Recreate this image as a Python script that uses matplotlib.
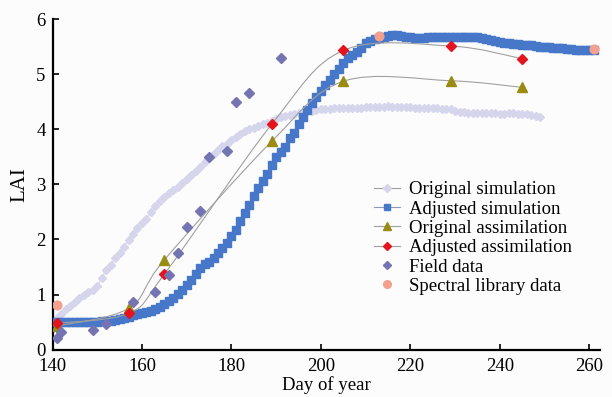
import numpy as np
import matplotlib
matplotlib.use('Agg')
import matplotlib.pyplot as plt
from matplotlib.path import Path
from matplotlib.patches import PathPatch
from matplotlib.lines import Line2D

plt.rcParams['font.family'] = ['Liberation Serif', 'DejaVu Serif']

# original simulation, daily from day 141
orig_sim_start = 141
orig_sim = [0.57, 0.65, 0.73, 0.80, 0.87, 0.93, 0.99, 1.05, 1.08, 1.15,
            1.30, 1.44, 1.54, 1.66, 1.76, 1.87, 1.99, 2.10, 2.21, 2.30,
            2.38, 2.49, 2.60, 2.69, 2.77, 2.84, 2.90, 2.96, 3.02, 3.09,
            3.17, 3.25, 3.31, 3.40, 3.48, 3.56, 3.63, 3.69, 3.74, 3.80,
            3.86, 3.91, 3.96, 4.00, 4.03, 4.06, 4.09, 4.12, 4.15, 4.19,
            4.22, 4.24, 4.26, 4.28, 4.30, 4.32, 4.33, 4.34, 4.35, 4.36,
            4.37, 4.37, 4.38, 4.38, 4.38, 4.38, 4.38, 4.39, 4.39, 4.40,
            4.40, 4.41, 4.41, 4.41, 4.42, 4.41, 4.41, 4.41, 4.40, 4.40,
            4.39, 4.39, 4.38, 4.38, 4.38, 4.38, 4.37, 4.37, 4.36, 4.34,
            4.32, 4.31, 4.30, 4.30, 4.29, 4.29, 4.29, 4.29, 4.29, 4.28,
            4.28, 4.29, 4.29, 4.28, 4.28, 4.27, 4.26, 4.24, 4.23]

# adjusted simulation, daily from day 141
adj_sim_start = 141
adj_sim = [0.50, 0.50, 0.50, 0.50, 0.50, 0.50, 0.50, 0.50, 0.50, 0.51,
           0.52, 0.52, 0.53, 0.54, 0.55, 0.57, 0.60, 0.63, 0.65, 0.67,
           0.68, 0.70, 0.73, 0.77, 0.83, 0.88, 0.93, 1.01, 1.08, 1.17,
           1.26, 1.38, 1.48, 1.55, 1.60, 1.67, 1.76, 1.85, 1.93, 2.06,
           2.18, 2.34, 2.48, 2.63, 2.78, 2.93, 3.06, 3.19, 3.35, 3.50,
           3.59, 3.68, 3.84, 3.94, 4.10, 4.23, 4.35, 4.48, 4.58, 4.69,
           4.80, 4.89, 5.00, 5.09, 5.20, 5.29, 5.35, 5.41, 5.47, 5.56,
           5.61, 5.64, 5.66, 5.68, 5.70, 5.71, 5.71, 5.70, 5.68, 5.67,
           5.66, 5.65, 5.66, 5.67, 5.68, 5.68, 5.68, 5.68, 5.68, 5.68,
           5.68, 5.68, 5.68, 5.67, 5.67, 5.65, 5.63, 5.62, 5.60, 5.59,
           5.57, 5.56, 5.55, 5.54, 5.53, 5.53, 5.52, 5.51, 5.50, 5.50,
           5.49, 5.48, 5.47, 5.47, 5.46, 5.45, 5.44, 5.44, 5.44, 5.44,
           5.43]

assim_days = [141, 157, 165, 189, 205, 229, 245]
orig_assim = [0.43, 0.75, 1.63, 3.78, 4.87, 4.88, 4.76]
adj_assim = [0.48, 0.66, 1.37, 4.09, 5.43, 5.51, 5.28]

field_days = [141, 142, 149, 152, 158, 163, 166, 168, 170, 173, 175, 179, 181, 184, 191]
field_lai = [0.22, 0.33, 0.36, 0.47, 0.87, 1.05, 1.35, 1.76, 2.22, 2.52, 3.50, 3.61, 4.49, 4.66, 5.30]

spec_days = [141, 213, 261]
spec_lai = [0.81, 5.70, 5.46]

labels = ['Original simulation', 'Adjusted simulation', 'Original assimilation',
          'Adjusted assimilation', 'Field data', 'Spectral library data']

c_orig = '#d5d5ec'
c_adj = '#4677c8'
c_tri = '#9a8b12'
c_red = '#e3141e'
c_field = '#7474b2'
c_spec = '#f3a08e'
c_line = '#a0a0a0'


def smooth_path(x, y):
    # excel-like smoothed line through the points
    p = np.column_stack([x, y]).astype(float)
    verts = [p[0]]
    codes = [Path.MOVETO]
    n = len(p)
    for i in range(n - 1):
        p0 = p[i - 1] if i > 0 else p[i]
        p3 = p[i + 2] if i + 2 < n else p[i + 1]
        c1 = p[i] + (p[i + 1] - p0) / 6
        c2 = p[i + 1] - (p3 - p[i]) / 6
        verts += [c1, c2, p[i + 1]]
        codes += [Path.CURVE4] * 3
    return Path(verts, codes)


fig = plt.figure(figsize=(6.12, 3.97), dpi=100)
fig.patch.set_facecolor('#fcfcfc')
ax = fig.add_axes([0.0858, 0.1191, 0.8946, 0.833])
ax.set_facecolor('none')

d1 = np.arange(orig_sim_start, orig_sim_start + len(orig_sim))
ax.plot(d1, orig_sim, color=c_orig, lw=0.8, marker='D', ms=3.6, mec=c_orig, mfc=c_orig, zorder=2)

d2 = np.arange(adj_sim_start, adj_sim_start + len(adj_sim))
ax.plot(d2, adj_sim, color=c_adj, lw=0.8, marker='s', ms=5.2, mec=c_adj, mfc=c_adj, zorder=3)

for yy in (orig_assim, adj_assim):
    ax.add_patch(PathPatch(smooth_path(assim_days, yy), fc='none', ec=c_line, lw=0.8, zorder=4))
ax.plot(assim_days, orig_assim, ls='none', marker='^', ms=6.5, color=c_tri, zorder=5)
ax.plot(assim_days, adj_assim, ls='none', marker='D', ms=4.8, color=c_red, zorder=5)

ax.plot(field_days, field_lai, ls='none', marker='D', ms=5, color=c_field, zorder=5)
ax.plot(spec_days, spec_lai, ls='none', marker='o', ms=6.3, color=c_spec, zorder=6)

ax.set_xlim(140, 262.4)
ax.set_ylim(0, 6)
ax.set_xticks([140, 160, 180, 200, 220, 240, 260])
ax.set_yticks([0, 1, 2, 3, 4, 5, 6])
ax.spines['top'].set_visible(False)
ax.spines['right'].set_visible(False)
for s in ('left', 'bottom'):
    ax.spines[s].set_linewidth(1.6)
ax.tick_params(direction='in', length=4, width=1.2, labelsize=13.5)
ax.tick_params(axis='x', pad=6)
ax.tick_params(axis='y', pad=5)
ax.set_xlabel('Day of year', fontsize=13.5, labelpad=0.5)
ax.set_ylabel('LAI', fontsize=15, labelpad=5)

handles = [
    Line2D([], [], color=c_line, lw=0.8, marker='D', ms=3.6, mfc=c_orig, mec=c_orig),
    Line2D([], [], color='#8a9ab8', lw=0.8, marker='s', ms=4.5, mfc=c_adj, mec=c_adj),
    Line2D([], [], color=c_line, lw=0.8, marker='^', ms=5.5, mfc=c_tri, mec=c_tri),
    Line2D([], [], color=c_line, lw=0.8, marker='D', ms=4, mfc=c_red, mec=c_red),
    Line2D([], [], ls='none', marker='D', ms=4.5, mfc=c_field, mec=c_field),
    Line2D([], [], ls='none', marker='o', ms=5.5, mfc=c_spec, mec=c_spec),
]
ax.legend(handles, labels, loc='upper left', bbox_to_anchor=(0.587, 0.51), frameon=False,
          fontsize=13.5, handlelength=1.4, handletextpad=0.45, labelspacing=0.12,
          borderpad=0, borderaxespad=0)

fig.savefig('out.png', dpi=100, facecolor=fig.get_facecolor())
